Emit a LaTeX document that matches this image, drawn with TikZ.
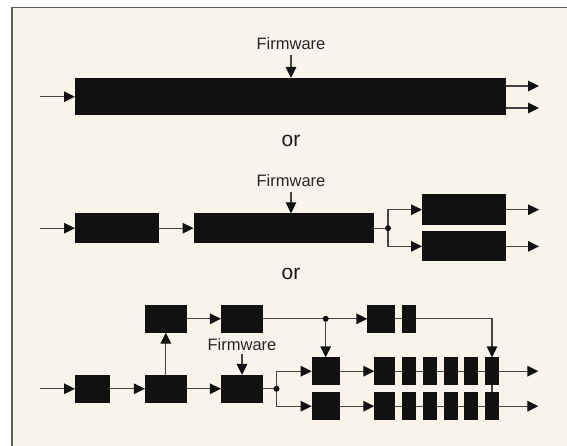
\documentclass[tikz,border=0pt]{standalone}
\usepackage{fontspec}
\setmainfont{Liberation Sans}
\usetikzlibrary{arrows.meta}
\definecolor{cream}{HTML}{F8F4EA}
\definecolor{framec}{HTML}{5E5E5E}
\definecolor{linec}{HTML}{444444}
\definecolor{blkc}{HTML}{111111}
\begin{document}
\begin{tikzpicture}[x=1pt,y=-1pt,
  blk/.style 2 args={fill=blkc, draw=none, inner sep=0pt, outer sep=0pt, minimum width=#1pt, minimum height=#2pt},
  lbl/.style={inner sep=0pt, outer sep=0pt, anchor=base, text=black!85, font=\fontsize{16.5}{19}\selectfont},
  orlbl/.style={inner sep=0pt, outer sep=0pt, anchor=base, text=black!90, font=\fontsize{21}{25}\selectfont},
  ln/.style={draw=linec, line width=1.3pt},
  arr/.style={ln, -{Triangle[length=11pt,width=10.5pt,color=blkc]}},
  fwarr/.style={arr, shorten <=5pt}
]
\useasboundingbox (0,0) rectangle (567,446);
\begin{scope}
  \clip (0,0) rectangle (567,446);
  \fill[white] (0,0) rectangle (567,446);
  \draw[fill=cream, draw=framec, line width=1.5pt] (12,7.5) rectangle (590,470);
\end{scope}

% ---------- Row 1 ----------
\node[blk={430.5}{37.5}] (big1) at (290.25,96.75) {};
\node[lbl] (fw1) at (291,49.5) {Firmware};
\coordinate (in1) at (40,96.75);
\coordinate (o1a) at (539,86);
\coordinate (o1b) at (539,108);
\draw[arr] (in1) -- (big1.west);
\draw[fwarr] (fw1.south) -- (fw1.south |- big1.north);
\draw[arr] (big1.east |- o1a) -- (o1a);
\draw[arr] (big1.east |- o1b) -- (o1b);
\node[orlbl] (or1) at (291,147) {or};

% ---------- Row 2 ----------
\node[blk={84}{29.7}] (b2a) at (117,228.2) {};
\node[blk={180}{29.7}] (b2b) at (283.5,228.2) {};
\node[blk={83.6}{30.4}] (b2c) at (463.8,209.7) {};
\node[blk={83.6}{30}] (b2d) at (463.8,246.4) {};
\node[lbl] (fw2) at (291,186.5) {Firmware};
\coordinate (in2) at (40,228.2);
\coordinate (d2) at (388,228.2);
\coordinate (o2a) at (539,209.7);
\coordinate (o2b) at (539,246.4);
\draw[arr] (in2) -- (b2a.west);
\draw[arr] (b2a) -- (b2b);
\draw[fwarr] (fw2.south) -- (fw2.south |- b2b.north);
\draw[ln] (b2b.east) -- (d2);
\draw[arr] (d2) |- (b2c.west);
\draw[arr] (d2) |- (b2d.west);
\draw[arr] (b2c.east) -- (o2a);
\draw[arr] (b2d.east) -- (o2b);
\fill[blkc] (d2) circle (3pt);
\node[orlbl] (or2) at (291,279.3) {or};

% ---------- Row 3 ----------
\node[blk={35}{27.7}] (r3a) at (92.5,388.8) {};
\node[blk={41.7}{27.7}] (r3b) at (165.8,388.8) {};
\node[blk={41.7}{27.7}] (r3c) at (165.8,318.8) {};
\node[blk={41.7}{27.7}] (r3d) at (241.8,318.8) {};
\node[blk={41.7}{27.7}] (r3e) at (241.8,388.8) {};
\node[lbl] (fw3) at (242,350.7) {Firmware};
\node[blk={28}{27.7}] (r3h) at (325.7,371.2) {};
\node[blk={28}{27.7}] (r3h2) at (325.7,406.2) {};
\node[blk={27.7}{27.7}] (r3f) at (381.2,318.8) {};
\node[blk={14}{27.7}] (r3g) at (409,318.8) {};
% chains
\node[blk={20.7}{27.7}] (c1u) at (384.65,371.2) {};
\node[blk={14}{27.7}] (c2u) at (409,371.2) {};
\node[blk={14}{27.7}] (c3u) at (430,371.2) {};
\node[blk={14}{27.7}] (c4u) at (451,371.2) {};
\node[blk={14}{27.7}] (c5u) at (471,371.2) {};
\node[blk={14}{27.7}] (c6u) at (492,371.2) {};
\node[blk={20.7}{27.7}] (c1l) at (384.65,406.2) {};
\node[blk={14}{27.7}] (c2l) at (409,406.2) {};
\node[blk={14}{27.7}] (c3l) at (430,406.2) {};
\node[blk={14}{27.7}] (c4l) at (451,406.2) {};
\node[blk={14}{27.7}] (c5l) at (471,406.2) {};
\node[blk={14}{27.7}] (c6l) at (492,406.2) {};
\coordinate (in3) at (40,388.8);
\coordinate (d3a) at (325.7,318.8);
\coordinate (d3b) at (276.5,388.8);
\coordinate (o3a) at (538.3,371.2);
\coordinate (o3b) at (538.3,406.2);

\draw[arr] (in3) -- (r3a.west);
\draw[arr] (r3a) -- (r3b);
\draw[arr] (r3b) -- (r3e);
\draw[arr] (r3b) -- (r3c);
\draw[arr] (r3c) -- (r3d);
\draw[fwarr, shorten <=3.5pt] (fw3.south) -- (fw3.south |- r3e.north);
\draw[ln] (r3d.east) -- (d3a);
\draw[arr] (d3a) -- (r3f.west);
\draw[ln] (r3f) -- (r3g);
\draw[arr] (d3a) -- (r3h.north);
\draw[arr] (r3g.east) -| (c6u.north);
\draw[ln] (r3e.east) -- (d3b);
\draw[arr] (d3b) |- (r3h.west);
\draw[arr] (d3b) |- (r3h2.west);
\draw[arr] (r3h) -- (c1u);
\draw[arr] (r3h2) -- (c1l);
\draw[ln] (c1u) -- (c2u) -- (c3u) -- (c4u) -- (c5u) -- (c6u);
\draw[ln] (c1l) -- (c2l) -- (c3l) -- (c4l) -- (c5l) -- (c6l);
\draw[ln] (c6u) -- (c6l);
\draw[arr] (c6u) -- (o3a);
\draw[arr] (c6l) -- (o3b);
\fill[blkc] (d3a) circle (3pt);
\fill[blkc] (d3b) circle (3pt);
\end{tikzpicture}
\end{document}
